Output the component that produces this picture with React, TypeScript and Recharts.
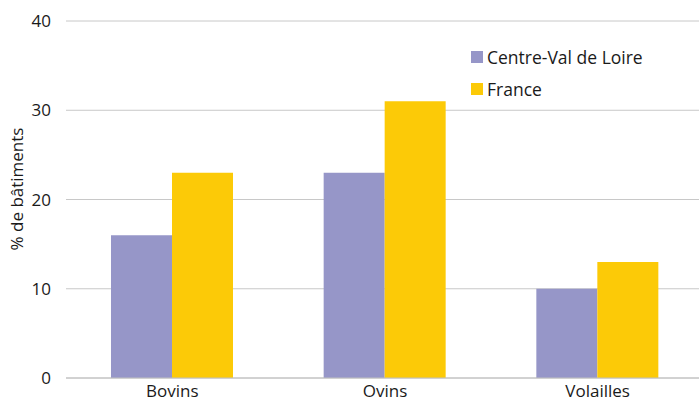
import { Bar, BarChart, CartesianGrid, Legend, XAxis, YAxis } from "recharts";

const categories = ["Bovins", "Ovins", "Volailles"];
const centreValDeLoire = [16, 23, 10];
const france = [23, 31, 13];
const yTicks = [0, 10, 20, 30, 40];

const data = categories.map((name, i) => ({
  name,
  centre: centreValDeLoire[i],
  france: france[i],
}));

const FONT = "'Open Sans', 'Noto Sans', sans-serif";

const LegendContent = (props: any) => {
  const { payload } = props;
  return (
    <div style={{ fontFamily: FONT, fontSize: 17.5, color: "#1a1a1a" }}>
      {(payload || []).map((entry: any) => (
        <div
          key={entry.value}
          style={{ display: "flex", alignItems: "center", height: 32 }}
        >
          <span
            style={{
              width: 12,
              height: 12,
              background: entry.color,
              marginRight: 4,
              display: "inline-block",
            }}
          />
          <span>{entry.value}</span>
        </div>
      ))}
    </div>
  );
};

const YLabel = () => (
  <text
    x={16}
    y={189}
    transform="rotate(-90, 16, 189)"
    textAnchor="middle"
    dominantBaseline="central"
    fontFamily={FONT}
    fontSize={17}
    fill="#1a1a1a"
  >
    % de bâtiments
  </text>
);

export default function App() {
  return (
    <div
      style={{
        position: "absolute",
        left: 0,
        top: 0,
        width: 699,
        height: 403,
        overflow: "hidden",
        background: "#fff",
      }}
    >
      <BarChart
        width={704}
        height={403}
        data={data}
        margin={{ top: 21, right: 0, bottom: 0, left: 0 }}
        barSize={61}
        barGap={0}
      >
        <CartesianGrid vertical={false} stroke="#c8c8c8" />
        <XAxis
          dataKey="name"
          height={25}
          tickLine={false}
          tickSize={0}
          tickMargin={7}
          stroke="#c0c0c0"
          tick={{ fill: "#1a1a1a", fontSize: 17, fontFamily: FONT }}
        />
        <YAxis
          width={66}
          domain={[0, 40]}
          ticks={yTicks}
          axisLine={false}
          tickLine={false}
          tickSize={0}
          tickMargin={15}
          tick={{ fill: "#1a1a1a", fontSize: 17, fontFamily: FONT }}
          label={<YLabel />}
        />
        <Legend
          layout="vertical"
          verticalAlign="middle"
          align="center"
          content={<LegendContent />}
          wrapperStyle={{ position: "absolute", left: 471, top: 41, width: 220 }}
        />
        <Bar
          dataKey="centre"
          name="Centre-Val de Loire"
          fill="#9696c8"
          isAnimationActive={false}
        />
        <Bar
          dataKey="france"
          name="France"
          fill="#fcca07"
          isAnimationActive={false}
        />
      </BarChart>
    </div>
  );
}
